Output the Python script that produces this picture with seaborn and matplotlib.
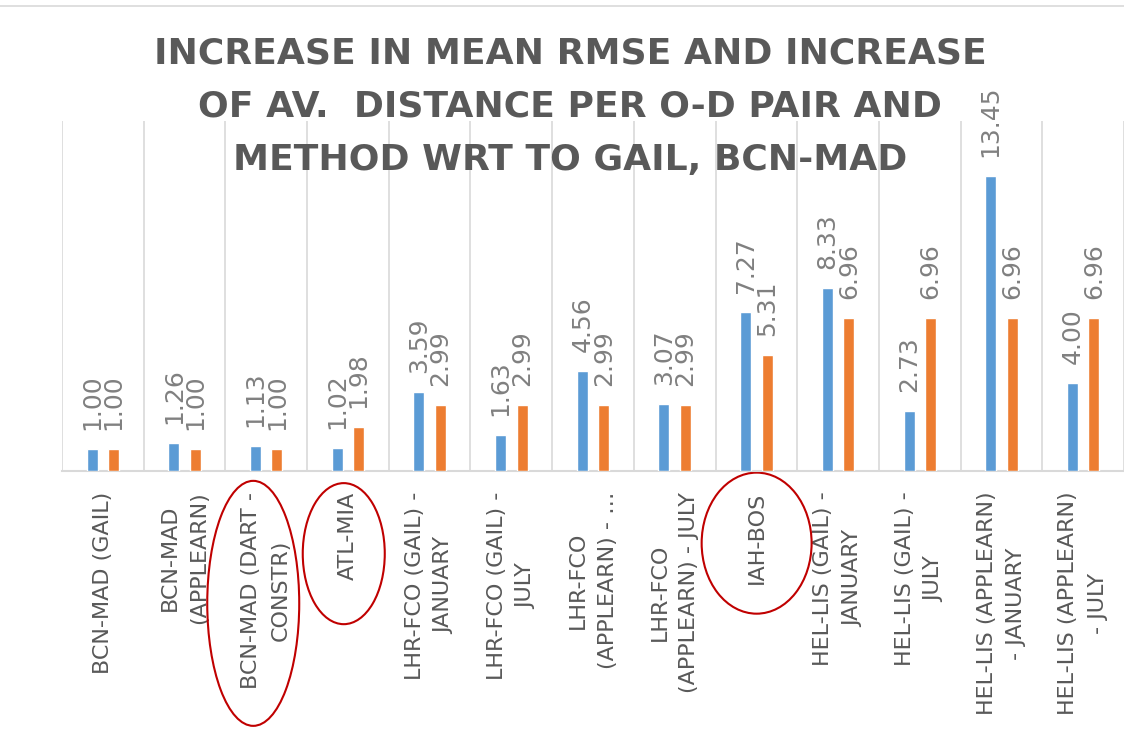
import matplotlib
matplotlib.use("Agg")
import matplotlib.pyplot as plt
from matplotlib.patches import Ellipse
from matplotlib.lines import Line2D
from matplotlib.transforms import blended_transform_factory
import seaborn as sns
import pandas as pd
import numpy as np

categories = [
    "BCN-MAD (GAIL)",
    "BCN-MAD\n(APPLEARN)",
    "BCN-MAD (DART -\nCONSTR)",
    "ATL-MIA",
    "LHR-FCO (GAIL) -\nJANUARY",
    "LHR-FCO (GAIL) -\nJULY",
    "LHR-FCO\n(APPLEARN) - \u2026",
    "LHR-FCO\n(APPLEARN) - JULY",
    "IAH-BOS",
    "HEL-LIS (GAIL) -\nJANUARY",
    "HEL-LIS (GAIL) -\nJULY",
    "HEL-LIS (APPLEARN)\n- JANUARY",
    "HEL-LIS (APPLEARN)\n- JULY",
]
rmse_increase = [1.00, 1.26, 1.13, 1.02, 3.59, 1.63, 4.56, 3.07, 7.27, 8.33, 2.73, 13.45, 4.00]
distance_increase = [1.00, 1.00, 1.00, 1.98, 2.99, 2.99, 2.99, 2.99, 5.31, 6.96, 6.96, 6.96, 6.96]
series_names = ["Increase in mean RMSE", "Increase of av. distance"]
highlighted = ["BCN-MAD (DART -\nCONSTR)", "ATL-MIA", "IAH-BOS"]

title = ("INCREASE IN MEAN RMSE AND INCREASE\n"
         "OF AV.  DISTANCE PER O-D PAIR AND\n"
         "METHOD WRT TO GAIL, BCN-MAD")

df = pd.DataFrame({
    "category": categories * 2,
    "value": rmse_increase + distance_increase,
    "series": [series_names[0]] * len(categories) + [series_names[1]] * len(categories),
})

sns.set_style("white")
plt.rcParams["font.family"] = ["DejaVu Sans"]

W, H = 1124, 744
fig = plt.figure(figsize=(W / 100, H / 100), dpi=100)
ax = fig.add_axes([62 / W, 1 - 470.7 / H, (W - 62) / W, 350 / H])

sns.barplot(data=df, x="category", y="value", hue="series",
            palette=["#5b9bd5", "#ed7d31"], saturation=1,
            width=0.525, gap=0.486, legend=False, ax=ax, zorder=3)

for cont in ax.containers:
    ax.bar_label(cont, fmt="%.2f", rotation=90, padding=13.7,
                 color="#808080", fontsize=18)

ax.set_xlim(-0.5, len(categories) - 0.5)
ax.set_ylim(0, 16)
ax.set_xlabel("")
ax.set_ylabel("")
ax.set_yticks([])
for s in ["left", "right", "top"]:
    ax.spines[s].set_visible(False)
ax.spines["bottom"].set_color("#d9d9d9")
ax.spines["bottom"].set_linewidth(1.5)

ax.set_xticks(range(len(categories)))
ax.set_xticklabels(categories, rotation=90, ha="center", va="top",
                   multialignment="center", color="#595959", fontsize=16)
for t in ax.get_xticklabels():
    t.set_linespacing(1.6)
ax.tick_params(axis="x", length=0, pad=15)
ax.set_xticks(np.arange(-0.5, len(categories), 1.0), minor=True)
ax.tick_params(axis="x", which="minor", length=0)
ax.grid(axis="x", which="minor", color="#d9d9d9", linewidth=1.2, zorder=0)
ax.grid(axis="x", which="major", visible=False)
ax.set_axisbelow(True)

# highlight ellipses around selected category labels
trans = blended_transform_factory(ax.transData, ax.transAxes)
ell_specs = {
    highlighted[0]: (-0.159, -0.379, 1.126, 0.70),
    highlighted[1]: (-0.051, -0.237, 1.004, 0.403),
    highlighted[2]: (0.003, -0.207, 1.346, 0.403),
}
for cat, (dx, cy, w, h) in ell_specs.items():
    i = categories.index(cat)
    e = Ellipse((i + dx, cy), w, h, transform=trans, fill=False,
                edgecolor="#c00000", linewidth=1.5, clip_on=False)
    ax.add_patch(e)

fig.text(570 / W, 1 - 37 / H, title, ha="center", va="top",
         fontsize=26, fontweight="bold", color="#595959", linespacing=1.7)

fig.add_artist(Line2D([0, 1], [1 - 5.7 / H, 1 - 5.7 / H],
                      transform=fig.transFigure, color="#d9d9d9", linewidth=1.2))

fig.savefig("out.png", dpi=100)
